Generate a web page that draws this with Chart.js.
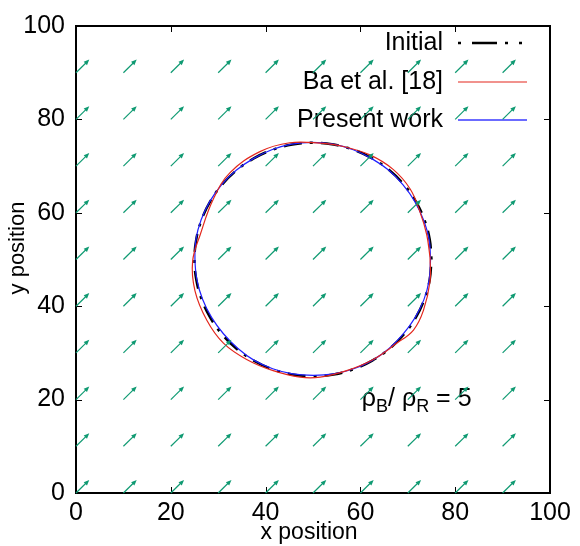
<!DOCTYPE html>
<html><head><meta charset="utf-8">
<script src="https://cdn.jsdelivr.net/npm/chart.js@4/dist/chart.umd.min.js"></script>
<style>html,body{margin:0;padding:0;background:#fff}</style>
</head><body>
<canvas id="c" width="580" height="546"></canvas>
<script>
const xTicks = [0, 20, 40, 60, 80, 100];
const yTicks = [0, 20, 40, 60, 80, 100];
const legendLabels = ['Initial', 'Ba et al. [18]', 'Present work'];

// Initial interface (circle of radius 25 at (50,50)), points read every 10 degrees
const initialX = [75,74.62,73.49,71.65,69.15,66.07,62.5,58.55,54.34,50,45.66,41.45,37.5,33.93,30.85,28.35,26.51,25.38,25,25.38,26.51,28.35,30.85,33.93,37.5,41.45,45.66,50,54.34,58.55,62.5,66.07,69.15,71.65,73.49,74.62,75];
const initialY = [50,54.34,58.55,62.5,66.07,69.15,71.65,73.49,74.62,75,74.62,73.49,71.65,69.15,66.07,62.5,58.55,54.34,50,45.66,41.45,37.5,33.93,30.85,28.35,26.51,25.38,25,25.38,26.51,28.35,30.85,33.93,37.5,41.45,45.66,50];

// Ba et al. [18]
const baX = [74.7,74.0,72.6,70.5,66.9,62.0,56.4,51.5,45.1,38.8,32.5,29.0,26.2,24.6,25.1,27.6,31.1,36.0,41.6,47.3,51.5,57.1,62.7,67.7,71.2,73.3,74.7,74.7];
const baY = [50.4,55.3,60.1,65.1,69.3,72.4,74.2,74.9,75.0,73.1,68.6,63.0,55.3,49.6,43.3,37.0,32.1,28.6,26.2,24.8,24.8,26.2,28.6,32.1,34.9,39.1,45.4,50.4];

// Present work
const pwX = [74.8,74.5,73.3,71.5,69.0,66.0,62.4,58.5,54.2,49.8,45.5,41.3,37.4,33.8,30.7,28.2,26.4,25.3,25.1,25.5,26.7,28.6,31.1,34.1,37.6,41.5,45.7,50.1,54.4,58.6,62.5,66.0,69.0,71.5,73.4,74.5,74.8];
const pwY = [50,54.3,58.5,62.4,66.0,69.1,71.6,73.5,74.7,75.1,74.7,73.5,71.6,69.1,66.0,62.4,58.5,54.3,50,45.7,41.5,37.6,34.1,31.0,28.4,26.6,25.5,25.2,25.5,26.6,28.4,30.9,34.0,37.5,41.4,45.6,50];

// velocity field arrows
const arrowX = [0,10,20,30,40,50,60,70,80,90];
const arrowY = [0,10,20,30,40,50,60,70,80,90];
const arrowDX = 2.8, arrowDY = 2.8;

const FONT = '"Liberation Sans", Arial, Helvetica, sans-serif';
const pts = (xs, ys) => xs.map((x, i) => ({x, y: ys[i]}));

const deco = {
  id: 'deco',
  afterDatasetsDraw(chart) {
    const {ctx, chartArea: a, scales: {x, y}} = chart;
    ctx.save();
    // frame
    ctx.strokeStyle = '#000'; ctx.lineWidth = 2;
    ctx.strokeRect(a.left, a.top, a.right - a.left, a.bottom - a.top);
    // inward ticks
    ctx.lineWidth = 1;
    ctx.beginPath();
    xTicks.forEach(v => { const p = Math.round(x.getPixelForValue(v)) + 0.5;
      ctx.moveTo(p, a.bottom); ctx.lineTo(p, a.bottom - 6);
      ctx.moveTo(p, a.top); ctx.lineTo(p, a.top + 6); });
    yTicks.forEach(v => { const p = Math.round(y.getPixelForValue(v)) + 0.5;
      ctx.moveTo(a.left, p); ctx.lineTo(a.left + 6, p);
      ctx.moveTo(a.right, p); ctx.lineTo(a.right - 6, p); });
    ctx.stroke();
    // axis titles
    ctx.fillStyle = '#000';
    ctx.font = '23px ' + FONT;
    ctx.textAlign = 'center'; ctx.textBaseline = 'middle';
    ctx.fillText('x position', 309, 533);
    ctx.font = '22px ' + FONT;
    ctx.save(); ctx.translate(18, 248); ctx.rotate(-Math.PI / 2);
    ctx.fillText('y position', 0, 0); ctx.restore();
    // legend
    ctx.font = '25px ' + FONT;
    ctx.textAlign = 'right';
    const ly = [43, 82, 120];
    legendLabels.forEach((t, i) => ctx.fillText(t, 443, ly[i]));
    ctx.lineWidth = 2.5; ctx.strokeStyle = '#000'; ctx.setLineDash([3, 11, 25, 8, 3, 11]);
    ctx.beginPath(); ctx.moveTo(458, ly[0]); ctx.lineTo(527, ly[0]); ctx.stroke();
    ctx.setLineDash([]);
    ctx.lineWidth = 1.2; ctx.strokeStyle = '#e3261c';
    ctx.beginPath(); ctx.moveTo(458, ly[1]); ctx.lineTo(527, ly[1]); ctx.stroke();
    ctx.strokeStyle = '#3a3aff'; ctx.lineWidth = 1.5;
    ctx.beginPath(); ctx.moveTo(458, ly[2]); ctx.lineTo(527, ly[2]); ctx.stroke();
    // density ratio label
    ctx.textAlign = 'left'; ctx.textBaseline = 'alphabetic';
    let tx = x.getPixelForValue(60.3), ty = y.getPixelForValue(18.6);
    const seg = [['ρ', 25, 0], ['B', 18, 6], ['/ ', 25, 0], ['ρ', 25, 0], ['R', 18, 6], [' = 5', 25, 0]];
    seg.forEach(([s, f, dy]) => { ctx.font = f + 'px ' + FONT; ctx.fillText(s, tx, ty + dy); tx += ctx.measureText(s).width; });
    // arrows
    ctx.strokeStyle = '#0f9a72'; ctx.fillStyle = '#0f9a72'; ctx.lineWidth = 1.2;
    arrowX.forEach(ax => arrowY.forEach(ay => {
      const x0 = x.getPixelForValue(ax), y0 = y.getPixelForValue(ay);
      const x1 = x.getPixelForValue(ax + arrowDX), y1 = y.getPixelForValue(ay + arrowDY);
      const ang = Math.atan2(y1 - y0, x1 - x0), L = 6, w = 0.4;
      ctx.beginPath(); ctx.moveTo(x0, y0); ctx.lineTo(x1 - Math.cos(ang) * 3, y1 - Math.sin(ang) * 3); ctx.stroke();
      ctx.beginPath(); ctx.moveTo(x1, y1);
      ctx.lineTo(x1 - L * Math.cos(ang - w), y1 - L * Math.sin(ang - w));
      ctx.lineTo(x1 - L * Math.cos(ang + w), y1 - L * Math.sin(ang + w));
      ctx.closePath(); ctx.fill();
    }));
    ctx.restore();
  }
};

new Chart(document.getElementById('c'), {
  type: 'scatter',
  data: { datasets: [
    { label: 'Ba et al. [18]', data: pts(baX, baY), showLine: true, borderColor: '#e3261c', borderWidth: 1.2, pointRadius: 0, tension: 0.4, fill: false },
    { label: 'Present work', data: pts(pwX, pwY), showLine: true, borderColor: '#1f1fff', borderWidth: 1.2, pointRadius: 0, tension: 0.4, fill: false },
    { label: 'Initial', data: pts(initialX, initialY), showLine: true, borderColor: '#000', borderWidth: 2.5, borderDash: [3, 8, 18, 8], pointRadius: 0, tension: 0.4, fill: false }
  ]},
  options: {
    responsive: false, animation: false,
    layout: { padding: { left: 0, right: 30, top: 17, bottom: 0 } },
    plugins: { legend: { display: false }, tooltip: { enabled: false } },
    scales: {
      x: { type: 'linear', min: 0, max: 100,
        afterBuildTicks: s => { s.ticks = xTicks.map(v => ({value: v})); },
        afterFit: s => { s.height = 53; },
        grid: { display: false, drawTicks: false }, border: { display: false },
        ticks: { color: '#000', font: { size: 25, family: FONT }, padding: 5, maxRotation: 0 } },
      y: { type: 'linear', min: 0, max: 100,
        afterBuildTicks: s => { s.ticks = yTicks.map(v => ({value: v})); },
        afterFit: s => { s.width = 76; },
        grid: { display: false, drawTicks: false }, border: { display: false },
        ticks: { color: '#000', font: { size: 25, family: FONT }, padding: 11 } }
    }
  },
  plugins: [deco]
});
</script>
</body></html>
